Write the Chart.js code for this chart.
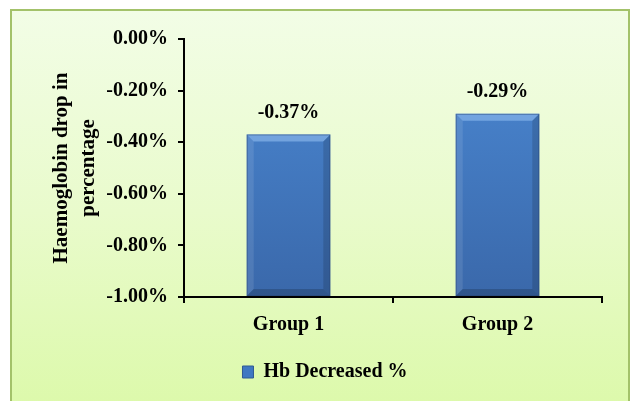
<!DOCTYPE html>
<html>
<head>
<meta charset="utf-8">
<script src="https://cdn.jsdelivr.net/npm/chart.js@4.4.1/dist/chart.umd.min.js"></script>
<style>
  html, body { margin: 0; padding: 0; background: #ffffff; }
  #wrap { position: relative; width: 631px; height: 401px; overflow: hidden; }
  #panel {
    position: absolute; left: 10px; top: 9px; width: 616px; height: 400px;
    border: 2px solid #a3c26a;
    background: linear-gradient(to bottom, #f2fde6 0%, #e9fbcc 50%, #dcf9aa 100%);
  }
  #c { position: absolute; left: 0; top: 0; }
</style>
</head>
<body>
<div id="wrap">
  <div id="panel"></div>
  <canvas id="c" width="631" height="401"></canvas>
</div>
<script>
// Haemoglobin drop per group (percent)
const categories = ['Group 1', 'Group 2'];
const hbDecreased = [-0.37, -0.29];
const seriesName = 'Hb Decreased %';
const yTitle = ['Haemoglobin drop in', 'percentage'];
const yMin = -1.0;
const yMax = 0.0;
const yStep = 0.2;

const FONT = "'Liberation Serif', 'Times New Roman', serif";
const fmtPct = v => v.toFixed(2) + '%';

// vertical blue fill for the bars
function barFill(ctx) {
  const chart = ctx.chart;
  const area = chart.chartArea;
  if (!area) return '#3f76bd';
  const g = chart.ctx.createLinearGradient(0, area.top, 0, area.bottom);
  g.addColorStop(0, '#4b89d4');
  g.addColorStop(1, '#3a68aa');
  return g;
}

// bevelled edges on each bar
const bevelPlugin = {
  id: 'bevel',
  afterDatasetsDraw(chart) {
    const ctx = chart.ctx;
    chart.getDatasetMeta(0).data.forEach(bar => {
      const p = bar.getProps(['x', 'y', 'base', 'width'], true);
      const l = p.x - p.width / 2, r = p.x + p.width / 2;
      const t = p.y, b = p.base, s = 7;
      ctx.save();
      const poly = (pts, fill) => {
        ctx.beginPath();
        ctx.moveTo(pts[0][0], pts[0][1]);
        for (let i = 1; i < pts.length; i++) ctx.lineTo(pts[i][0], pts[i][1]);
        ctx.closePath();
        ctx.fillStyle = fill;
        ctx.fill();
      };
      poly([[l, t], [r, t], [r - s, t + s], [l + s, t + s]], 'rgba(170,210,255,0.45)');
      poly([[l, t], [l + s, t + s], [l + s, b - s], [l, b]], 'rgba(255,255,255,0.10)');
      poly([[r, t], [r, b], [r - s, b - s], [r - s, t + s]], 'rgba(0,0,0,0.14)');
      poly([[l, b], [l + s, b - s], [r - s, b - s], [r, b]], 'rgba(0,0,0,0.18)');
      ctx.strokeStyle = 'rgba(40,70,120,0.5)';
      ctx.lineWidth = 1;
      ctx.strokeRect(l + 0.5, t + 0.5, p.width - 1, b - t - 1);
      ctx.restore();
    });
  }
};

// value labels above the bars
const valueLabels = {
  id: 'valueLabels',
  afterDatasetsDraw(chart) {
    const ctx = chart.ctx;
    const ds = chart.data.datasets[0];
    ctx.save();
    ctx.font = 'bold 20px ' + FONT;
    ctx.fillStyle = '#000';
    ctx.textAlign = 'center';
    ctx.textBaseline = 'middle';
    chart.getDatasetMeta(0).data.forEach((bar, i) => {
      ctx.fillText(fmtPct(ds.data[i]), bar.x, bar.y - 22);
    });
    ctx.restore();
  }
};

new Chart(document.getElementById('c'), {
  type: 'bar',
  data: {
    labels: categories,
    datasets: [{
      label: seriesName,
      data: hbDecreased,
      base: yMin,
      backgroundColor: barFill,
      borderWidth: 0,
      categoryPercentage: 0.8,
      barPercentage: 0.5
    }]
  },
  options: {
    responsive: false,
    animation: false,
    layout: { padding: { left: 48, right: 29, top: 39, bottom: 9 } },
    plugins: {
      legend: {
        position: 'bottom',
        labels: {
          color: '#000',
          font: { family: FONT, size: 20, weight: 'bold' },
          boxWidth: 11,
          boxHeight: 12,
          padding: 10,
          generateLabels(chart) {
            return [{
              text: seriesName,
              fillStyle: '#3f78c2',
              strokeStyle: '#2f5a94',
              lineWidth: 1,
              datasetIndex: 0,
              fontColor: '#000'
            }];
          }
        }
      },
      tooltip: { enabled: false }
    },
    scales: {
      x: {
        grid: { drawOnChartArea: false, drawTicks: true, tickLength: 6, color: '#000', lineWidth: 2, offset: true },
        border: { color: '#000', width: 2 },
        ticks: { color: '#000', padding: 10, font: { family: FONT, size: 20, weight: 'bold' } },
        afterFit(s) { s.height = 55; }
      },
      y: {
        min: yMin,
        max: yMax,
        grid: { drawOnChartArea: false, drawTicks: true, tickLength: 6, color: '#000', lineWidth: 2 },
        border: { color: '#000', width: 2 },
        ticks: {
          stepSize: yStep,
          color: '#000',
          padding: 10,
          font: { family: FONT, size: 20, weight: 'bold' },
          callback: v => fmtPct(v)
        },
        title: {
          display: true,
          text: yTitle,
          color: '#000',
          padding: { top: 0, bottom: 0 },
          font: { family: FONT, size: 21, weight: 'bold', lineHeight: 1.3 }
        },
        afterFit(s) { s.width = 136; }
      }
    }
  },
  plugins: [bevelPlugin, valueLabels]
});
</script>
</body>
</html>
